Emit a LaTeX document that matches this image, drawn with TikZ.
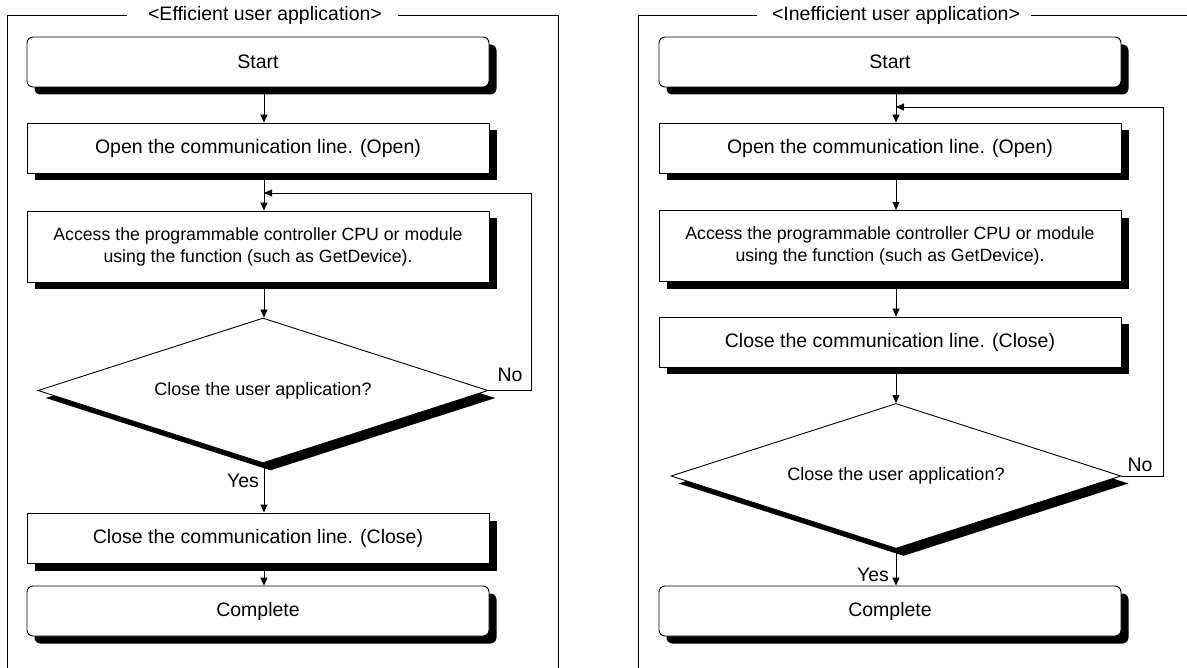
\documentclass[tikz,border=0pt]{standalone}
\usepackage{fontspec}
\setmainfont{Liberation Sans}
\usetikzlibrary{shapes.geometric,shadows,arrows.meta,calc}
\begin{document}
\begin{tikzpicture}[x=1pt,y=-1pt,
  every node/.style={font=\fontsize{19.5}{23}\selectfont, inner sep=0pt},
  shad/.style={drop shadow={shadow xshift=7.5pt,shadow yshift=-7.5pt,fill=black,opacity=1}},
  box/.style={draw, line width=0.9pt, fill=white, minimum width=462pt, minimum height=50pt, shad},
  rbox/.style={box, rounded corners=6pt},
  abox/.style={box, minimum height=71pt, align=center, font=\fontsize{17.7}{22}\selectfont},
  dbox/.style={draw, line width=0.9pt, fill=white, diamond, minimum width=450pt, minimum height=145pt, aspect=3.1, font=\fontsize{18}{22}\selectfont, shad},
  arr/.style={line width=0.9pt, -{Triangle[length=8pt,width=7pt]}},
  frame/.style={line width=0.9pt},
  lbl/.style={font=\fontsize{19.5}{23}\selectfont}
]
\useasboundingbox (0,0) rectangle (1187,668);
\fill[white] (0,0) rectangle (1187,668);

% ---------- left panel ----------
\node (titleL) at (265,15) {<Efficient user application>};
\draw[frame] (7,668) -- (7,15) -- (127,15);
\draw[frame] (398,15) -- (558,15) -- (558,668);
\coordinate (cL) at (264,0);
\coordinate (loopL) at (531,193);

\node[rbox] (startL) at (258,62) {Start};
\node[box] (openL) at (258,148) {Open the communication line. (Open)};
\node[abox] (accL) at (258,246.5) {Access the programmable controller CPU or module\\using the function (such as GetDevice).};
\node[dbox] (dL) at (263,390.5) {Close the user application?};
\node[box] (closeL) at (258,538) {Close the communication line. (Close)};
\node[rbox] (compL) at (258,611) {Complete};

\draw[arr] (startL.south -| cL) -- (openL.north -| cL);
\draw[arr] (openL.south -| cL) -- (accL.north -| cL);
\draw[arr] (accL.south -| cL) -- (dL.north -| cL);
\draw[arr] (dL.east) -| (loopL) -- (loopL -| cL);
\draw[arr] (dL.south -| cL) -- (closeL.north -| cL);
\draw[arr] (closeL.south -| cL) -- (compL.north -| cL);
\node[lbl] (noL) at (510,375) {No};
\node[lbl] (yesL) at (243,481) {Yes};

% ---------- right panel ----------
\node (titleR) at (896,15) {<Inefficient user application>};
\draw[frame] (638,668) -- (638,15) -- (757,15);
\draw[frame] (1031,15) -- (1187,15);
\coordinate (cR) at (896,0);
\coordinate (loopR) at (1163,107);

\node[rbox] (startR) at (890,62) {Start};
\node[box] (openR) at (890,148) {Open the communication line. (Open)};
\node[abox] (accR) at (890,246) {Access the programmable controller CPU or module\\using the function (such as GetDevice).};
\node[box] (closeR) at (890,342) {Close the communication line. (Close)};
\node[dbox] (dR) at (896,476) {Close the user application?};
\node[rbox] (compR) at (890,611) {Complete};

\draw[arr] (startR.south -| cR) -- (openR.north -| cR);
\draw[arr] (openR.south -| cR) -- (accR.north -| cR);
\draw[arr] (accR.south -| cR) -- (closeR.north -| cR);
\draw[arr] (closeR.south -| cR) -- (dR.north -| cR);
\draw[arr] (dR.east) -| (loopR) -- (loopR -| cR);
\draw[arr] (dR.south -| cR) -- (compR.north -| cR);
\node[lbl] (noR) at (1140,465) {No};
\node[lbl] (yesR) at (873,575) {Yes};
\end{tikzpicture}
\end{document}
